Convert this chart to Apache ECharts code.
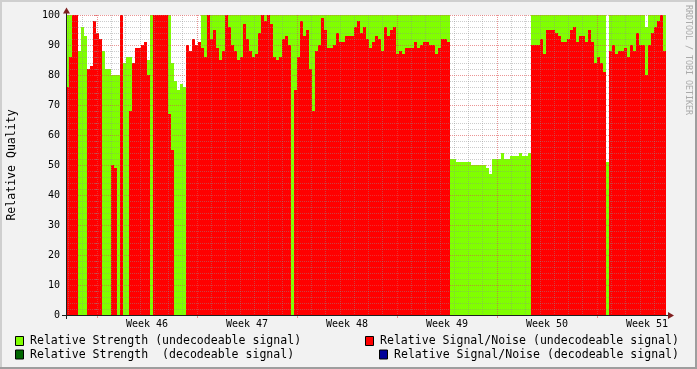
<!DOCTYPE html>
<html><head><meta charset="utf-8">
<script src="https://cdn.jsdelivr.net/npm/echarts@6/dist/echarts.min.js"></script>
<style>html,body{margin:0;padding:0;background:#F2F2F2}#c{width:697px;height:369px}</style>
</head><body><div id="c"></div>
<script>
// ---- data ----
const weekLabels = ['Week 46','Week 47','Week 48','Week 49','Week 50','Week 51'];
const slotHours = 5.04;        // duration of one sample (hours)
const startHour = -52.08;      // first sample, hours relative to Monday of week 46

const strengthUndecodeable = [
100,100,100,100,88,96,93,null,null,null,
null,null,88,82,82,80,80,80,80,84,
86,86,null,null,null,null,null,85,100,100,
100,100,100,100,100,84,78,75,77,76,
null,null,null,null,null,100,100,100,100,100,
100,100,100,100,100,100,100,100,100,100,
100,100,100,100,100,100,100,100,100,100,
100,100,100,100,100,100,100,100,100,100,
100,100,100,100,100,100,100,100,100,100,
100,100,100,100,100,100,100,100,100,100,
100,100,100,100,100,100,100,100,100,100,
100,100,100,100,100,100,100,100,100,100,
100,100,100,100,100,100,100,100,52,52,
51,51,51,51,51,50,50,50,50,50,
49,47,52,52,52,54,52,52,53,53,
53,54,53,53,54,100,100,100,100,100,
100,100,100,100,100,100,100,100,100,100,
100,100,100,100,100,100,100,100,100,100,
51,100,100,100,100,100,100,100,100,100,
100,100,100,96,100,100,100,100,100,100
];
const snrUndecodeable = [
76,86,100,100,0,0,0,82,83,98,
94,92,0,0,0,50,49,0,100,0,
0,68,84,89,89,90,91,80,0,100,
100,100,100,100,67,55,0,0,0,0,
90,88,92,90,91,89,86,100,92,95,
89,85,88,100,96,90,88,85,86,97,
92,88,86,87,94,100,98,100,97,86,
85,86,92,93,90,0,75,86,98,93,
95,82,68,88,90,99,95,89,89,90,
94,91,91,93,93,93,96,98,94,96,
92,89,91,93,92,88,96,93,95,96,
87,88,87,89,89,89,91,89,90,91,
91,90,90,87,89,92,92,91,null,null,
null,null,null,null,null,null,null,null,null,null,
null,null,null,null,null,null,null,null,null,null,
null,null,null,null,null,90,90,90,92,87,
95,95,95,94,93,91,91,92,95,96,
91,93,93,91,95,91,84,86,84,81,
null,88,90,87,88,88,89,86,90,88,
94,90,90,80,90,94,96,98,100,88
];
const strengthDecodeable = [];
const snrDecodeable = [];

// ---- helpers ----
function stepData(vals){
  const out = [];
  for (let i = 0; i < vals.length; i++) {
    const x0 = startHour + i * slotHours, x1 = x0 + slotHours;
    const v = vals[i];
    if (v === null || v === undefined) out.push([x0, null]);
    else { out.push([x0, v]); out.push([x1, v]); }
  }
  return out;
}
const xMin = startHour, xMax = startHour + 200 * slotHours;
const weekStarts = weekLabels.map((_, k) => 168 * k);
const weekCenters = weekLabels.map((_, k) => 84 + 168 * k);
const dayLines = [];
for (let d = -2; d <= 39; d++) if (d % 7 !== 0) dayLines.push(24 * d);

const MONO = 'DejaVu Sans Mono';
const GRIDC = 'rgba(143,143,143,0.45)';
const MGRIDC = 'rgba(222,79,79,0.6)';

const chart = echarts.init(document.getElementById('c'), null, {renderer:'canvas', width:697, height:369});

function areaSeries(name, color, vals){
  return {
    name, type:'line', xAxisIndex:0, yAxisIndex:0,
    data: stepData(vals), showSymbol:false, symbol:'none',
    lineStyle:{width:0, color}, itemStyle:{color},
    areaStyle:{color, opacity:1, origin:'start'},
    connectNulls:false, animation:false, silent:true, z:2
  };
}

function legendItem(x, y, color, text){
  return [
    {type:'rect', shape:{x:x+0.5, y:y-4.5, width:8, height:9}, style:{fill:color, stroke:'#000', lineWidth:1}, z:100},
    {type:'text', x:x+15, y:y, style:{text, font:'11.55px "'+MONO+'"', fill:'#000', verticalAlign:'middle', align:'left'}, z:100}
  ];
}

chart.setOption({
  animation:false,
  backgroundColor:'#F2F2F2',
  grid:{left:66, top:15, width:600, height:300, show:true, backgroundColor:'#FFFFFF', borderWidth:0, containLabel:false},
  xAxis:[{
    type:'value', min:xMin, max:xMax, z:5,
    axisLine:{show:false},
    axisTick:{show:true, customValues:weekStarts, length:3, lineStyle:{color:MGRIDC}},
    axisLabel:{show:true, customValues:weekCenters, margin:4,
      formatter:(v)=>weekLabels[Math.round((v-84)/168)],
      fontFamily:MONO, fontSize:10, color:'#000'},
    splitLine:{show:true, lineStyle:{color:MGRIDC, width:1, type:[1,1]}}
  },{
    type:'value', min:xMin, max:xMax, z:4, position:'bottom',
    axisLine:{show:false}, axisLabel:{show:false},
    axisTick:{show:false, customValues:dayLines},
    splitLine:{show:true, lineStyle:{color:GRIDC, width:1, type:[1,1]}}
  }],
  yAxis:{
    type:'value', min:0, max:100, interval:10, z:5,
    axisLine:{show:false},
    axisTick:{show:true, length:3, lineStyle:{color:MGRIDC}},
    minorTick:{show:true, splitNumber:5, length:2, lineStyle:{color:GRIDC}},
    axisLabel:{margin:6, fontFamily:MONO, fontSize:10, color:'#000'},
    splitLine:{show:true, lineStyle:{color:MGRIDC, width:1, type:[1,1]}},
    minorSplitLine:{show:true, lineStyle:{color:GRIDC, width:1, type:[1,1]}}
  },
  series:[
    areaSeries('Relative Strength (undecodeable signal)', '#80FF00', strengthUndecodeable),
    areaSeries('Relative Signal/Noise (undecodeable signal)', '#FF0000', snrUndecodeable),
    areaSeries('Relative Strength  (decodeable signal)', '#006600', strengthDecodeable),
    areaSeries('Relative Signal/Noise (decodeable signal)', '#000099', snrDecodeable)
  ],
  graphic:[
    {type:'rect', shape:{x:0,y:0,width:697,height:2}, style:{fill:'#CFCFCF'}, z:90},
    {type:'rect', shape:{x:0,y:0,width:2,height:369}, style:{fill:'#CFCFCF'}, z:90},
    {type:'rect', shape:{x:0,y:367,width:697,height:2}, style:{fill:'#9E9E9E'}, z:91},
    {type:'rect', shape:{x:695,y:0,width:2,height:369}, style:{fill:'#9E9E9E'}, z:91},
    {type:'line', shape:{x1:62, y1:315.5, x2:670, y2:315.5}, style:{stroke:'#1F1F1F', lineWidth:1}, z:50},
    {type:'line', shape:{x1:66.5, y1:319, x2:66.5, y2:11}, style:{stroke:'#1F1F1F', lineWidth:1}, z:50},
    {type:'polygon', shape:{points:[[63,13.5],[70,13.5],[66.5,7.5]]}, style:{fill:'#801F1F'}, z:51},
    {type:'polygon', shape:{points:[[668,312],[668,319],[674,315.5]]}, style:{fill:'#801F1F'}, z:51},
    {type:'text', x:12, y:165, rotation:Math.PI/2, style:{text:'Relative Quality', font:'11.55px "'+MONO+'"', fill:'#000', align:'center', verticalAlign:'middle'}, z:100},
    {type:'text', x:688.5, y:60, rotation:-Math.PI/2, style:{text:'RRDTOOL / TOBI OETIKER', font:'8.3px "'+MONO+'"', fill:'#AAAAAA', align:'center', verticalAlign:'middle'}, z:100},
    ...legendItem(15, 341, '#80FF00', 'Relative Strength (undecodeable signal)'),
    ...legendItem(365, 341, '#FF0000', 'Relative Signal/Noise (undecodeable signal)'),
    ...legendItem(15, 354.5, '#006600', 'Relative Strength  (decodeable signal)'),
    ...legendItem(379, 354.5, '#000099', 'Relative Signal/Noise (decodeable signal)')
  ]
});
</script>
</body></html>
